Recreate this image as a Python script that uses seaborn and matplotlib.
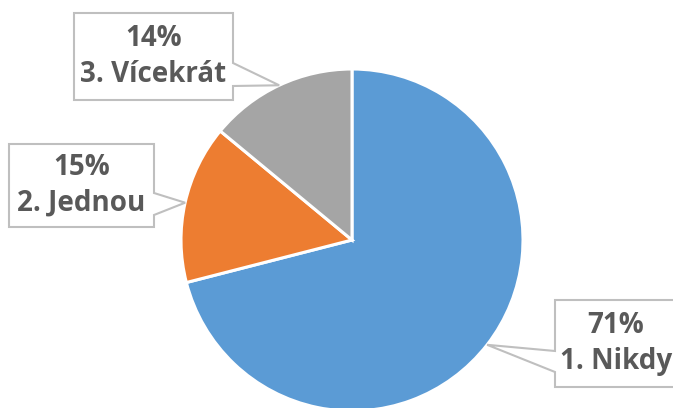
import numpy as np
import matplotlib.pyplot as plt
import seaborn as sns
from matplotlib.patches import Polygon

sns.set_theme(style="white")
plt.rcParams['font.family'] = ['Open Sans', 'DejaVu Sans']

# data
categories = ['1. Nikdy', '2. Jednou', '3. Vícekrát']
shares = [71, 15, 14]
colors = ['#5B9BD5', '#ED7D31', '#A5A5A5']

W, H = 673, 408
fig = plt.figure(figsize=(W / 100, H / 100), dpi=100)
ax = fig.add_axes([0, 0, 1, 1])

cx, cy, r = 352, H - 240, 171
wedges, _ = ax.pie(shares, colors=colors, startangle=90, counterclock=False,
                   center=(cx, cy), radius=r, frame=True,
                   wedgeprops=dict(edgecolor='white', linewidth=2.2))
ax.set_xlim(0, W)
ax.set_ylim(0, H)
ax.axis('off')

# callout boxes: (left, top, right, bottom) in pixels (y down), pointer side, pointer base
boxes = {
    '1. Nikdy': ((555, 300, 700, 387), 'left', (351, 372)),
    '2. Jednou': ((9, 144, 154, 227), 'right', (193, 215)),
    '3. Vícekrát': ((74, 13, 233, 100), 'right', (63, 86)),
}

for w, cat, val in zip(wedges, categories, shares):
    mid = np.deg2rad((w.theta1 + w.theta2) / 2)
    tip = (cx + r * np.cos(mid), cy + r * np.sin(mid))
    (l, t, rr, b), side, (p1, p2) = boxes[cat]
    L, T, R, B = l, H - t, rr, H - b
    P1, P2 = H - p1, H - p2
    if side == 'right':
        verts = [(L, T), (R, T), (R, P1), tip, (R, P2), (R, B), (L, B)]
    else:
        verts = [(L, T), (R, T), (R, B), (L, B), (L, P2), tip, (L, P1)]
    ax.add_patch(Polygon(verts, closed=True, facecolor='white',
                         edgecolor='#BFBFBF', linewidth=1.5, zorder=3))
    tx = (l + rr) / 2 if side == 'right' else 616
    ty = H - (t + b) / 2
    ax.text(tx, ty, f'{val}%\n{cat}', ha='center', va='center',
            fontsize=20, fontweight='bold', color='#595959',
            linespacing=1.3, zorder=4)

fig.savefig('out.png', dpi=100)
